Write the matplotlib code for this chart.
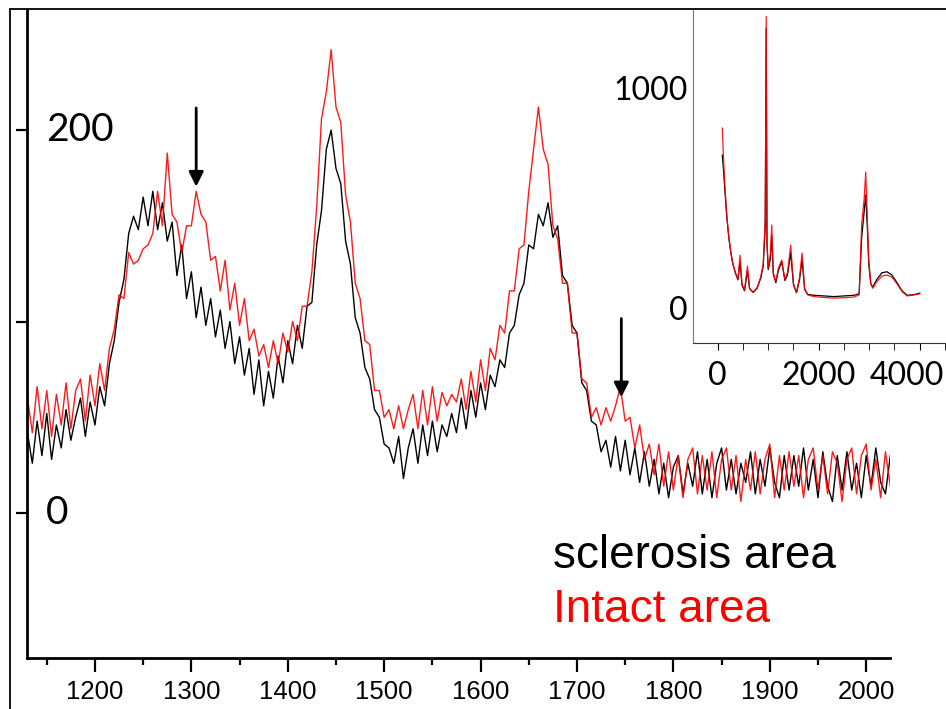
import numpy as np
import matplotlib.pyplot as plt
import matplotlib.transforms as mtransforms
from matplotlib.patches import Rectangle

# Main spectrum: Raman shift (cm-1), read every 5 cm-1 off the picture
shift = np.arange(1130, 2026, 5)

sclerosis = [
    42, 26, 48, 30, 52, 28, 46, 34, 54, 38,
    50, 60, 40, 58, 46, 66, 56, 78, 90, 110,
    122, 146, 155, 148, 165, 150, 168, 148, 162, 142,
    152, 124, 140, 112, 126, 102, 118, 98, 112, 92,
    106, 86, 100, 78, 92, 72, 86, 62, 80, 56,
    74, 60, 82, 68, 90, 78, 98, 86, 108, 110,
    140, 158, 190, 200, 180, 172, 142, 130, 102, 94,
    76, 70, 54, 50, 36, 34, 26, 40, 18, 34,
    44, 26, 46, 30, 48, 32, 46, 40, 52, 42,
    60, 44, 64, 50, 68, 54, 72, 66, 80, 76,
    94, 98, 114, 120, 140, 138, 156, 150, 162, 144,
    150, 124, 120, 98, 94, 68, 64, 48, 46, 32,
    38, 24, 40, 22, 38, 20, 34, 16, 32, 14,
    28, 10, 26, 8, 24, 30, 10, 26, 14, 32,
    10, 28, 8, 26, 34, 12, 28, 10, 26, 16,
    32, 10, 28, 14, 34, 16, 8, 30, 12, 30,
    14, 34, 12, 28, 8, 32, 14, 6, 30, 12,
    32, 12, 26, 8, 30, 14, 34, 16, 10, 30,
]

intact = [
    60, 42, 66, 44, 64, 40, 62, 46, 68, 44,
    64, 70, 48, 72, 56, 78, 64, 86, 96, 114,
    112, 136, 130, 132, 138, 140, 146, 168, 150, 188,
    156, 152, 136, 150, 150, 168, 156, 152, 132, 134,
    116, 132, 106, 120, 98, 112, 90, 96, 82, 88,
    76, 90, 78, 94, 84, 100, 90, 108, 108, 126,
    160, 206, 220, 242, 212, 204, 166, 152, 120, 112,
    90, 88, 64, 64, 50, 54, 44, 56, 44, 54,
    62, 44, 64, 46, 66, 48, 63, 56, 62, 58,
    70, 54, 74, 58, 80, 64, 86, 80, 98, 94,
    116, 116, 138, 140, 168, 190, 212, 190, 182, 150,
    143, 120, 120, 94, 94, 70, 68, 50, 55, 46,
    55, 48, 56, 66, 48, 50, 34, 46, 28, 36,
    20, 36, 14, 32, 12, 30, 8, 28, 34, 10,
    30, 12, 32, 8, 28, 34, 12, 30, 6, 28,
    12, 32, 10, 28, 36, 8, 30, 12, 32, 14,
    30, 8, 28, 34, 12, 30, 10, 32, 26, 6,
    28, 34, 10, 30, 36, 12, 28, 8, 32, 14,
]

# Inset: full range spectrum
inset_shift = [90, 110, 140, 180, 220, 260, 300, 350, 400, 441,
               480, 530, 588, 630, 700, 780, 850, 900, 940, 960,
               975, 1000, 1040, 1070, 1100, 1150, 1200, 1267, 1330, 1380,
               1445, 1500, 1560, 1620, 1670, 1720, 1780, 1900, 2100, 2300,
               2500, 2700, 2800, 2850, 2900, 2930, 2960, 2990, 3030, 3070,
               3150, 3250, 3350, 3450, 3550, 3650, 3750, 3850, 3950, 4000]
inset_intact = [818, 700, 560, 420, 320, 250, 200, 160, 130, 240,
                110, 80, 190, 90, 70, 90, 140, 200, 400, 1325,
                300, 180, 240, 377, 160, 120, 180, 218, 130, 160,
                286, 110, 70, 140, 250, 90, 60, 52, 48, 45,
                47, 50, 60, 380, 500, 618, 420, 220, 110, 90,
                120, 145, 150, 140, 110, 75, 55, 58, 62, 65]
inset_sclerosis = [695, 640, 540, 410, 320, 250, 200, 160, 128, 210,
                   105, 78, 170, 88, 72, 92, 135, 190, 370, 1272,
                   290, 175, 220, 330, 155, 115, 170, 210, 125, 150,
                   250, 105, 70, 130, 220, 85, 62, 58, 55, 52,
                   55, 58, 65, 320, 440, 514, 380, 200, 110, 95,
                   130, 160, 165, 150, 115, 78, 58, 60, 64, 68]

arrow_x = [1305, 1746]
arrow_tip = [169, 59]
arrow_tail = [213, 103]

label_font = ['Lato', 'DejaVu Sans']
tick_font = ['Liberation Sans', 'DejaVu Sans']

fig = plt.figure(figsize=(9.46, 7.09), dpi=100)

# outer frame (left and top edges visible)
fig.patches.append(Rectangle((10 / 946, -0.1), 1.2, 1.1 - 9 / 709, transform=fig.transFigure,
                             fill=False, edgecolor='black', linewidth=1.3, zorder=0))

ax = fig.add_axes([27 / 946, 1 - 658 / 709, 863 / 946, 648 / 709])
ax.patch.set_alpha(0)
ax.plot(shift, sclerosis, color='black', lw=1.0)
ax.plot(shift, intact, color='#ff0000', lw=1.0, alpha=0.9)

ax.set_xlim(1129.5, 2024.7)
ax.set_ylim(-75.7, 262.7)
for s in ['top', 'right']:
    ax.spines[s].set_visible(False)
for s in ['left', 'bottom']:
    ax.spines[s].set_linewidth(2)

ax.set_xticks(range(1200, 2001, 100))
ax.set_xticks(range(1150, 2026, 50), minor=True)
ax.tick_params(axis='x', which='major', length=10, width=1.6, pad=6, labelsize=18.5)
ax.tick_params(axis='x', which='minor', length=5, width=1.6)
for lab in ax.get_xticklabels():
    lab.set_family(tick_font)

ax.set_yticks([0, 100, 200])
ax.set_yticklabels([])
ax.tick_params(axis='y', length=8, width=1.6)

trans = mtransforms.blended_transform_factory(ax.transAxes, ax.transData)
for v in [0, 200]:
    ax.text(0.022, v, str(v), transform=trans, ha='left', va='center',
            fontsize=28, family=label_font)

for x, tip, tail in zip(arrow_x, arrow_tip, arrow_tail):
    ax.annotate('', xy=(x, tip), xytext=(x, tail),
                arrowprops=dict(arrowstyle='-|>', color='black', lw=2, mutation_scale=22))

fig.text(553 / 946, 1 - 568 / 709, 'sclerosis area', color='black', fontsize=33,
         family=tick_font, va='baseline')
fig.text(553 / 946, 1 - 622 / 709, 'Intact area', color='#ff0000', fontsize=33,
         family=tick_font, va='baseline')

# inset
ins = fig.add_axes([693 / 946, 1 - 343 / 709, 252 / 946, 333 / 709])
ins.plot(inset_shift, inset_sclerosis, color='black', lw=0.9)
ins.plot(inset_shift, inset_intact, color='#ff0000', lw=0.9, alpha=0.9)
ins.set_xlim(-490, 4500)
ins.set_ylim(-159, 1355)
for s in ['top', 'right']:
    ins.spines[s].set_visible(False)
ins.spines['left'].set_color('#777777')
ins.spines['bottom'].set_color('#333333')
ins.set_xticks([0, 2000, 4000])
ins.set_xticks(range(500, 4600, 500), minor=True)
ins.set_yticks([0, 1000])
ins.tick_params(axis='x', which='both', length=5, labelsize=23, pad=8)
ins.tick_params(axis='y', length=0, labelsize=23, pad=4)
for lab in ins.get_xticklabels() + ins.get_yticklabels():
    lab.set_family(label_font)
# last inset label sits a little left of its tick in the reference
last = ins.get_xticklabels()[-1]
last.set_transform(last.get_transform() + mtransforms.ScaledTranslation(-13 / 100, 0, fig.dpi_scale_trans))

fig.savefig('out.png', dpi=100)
